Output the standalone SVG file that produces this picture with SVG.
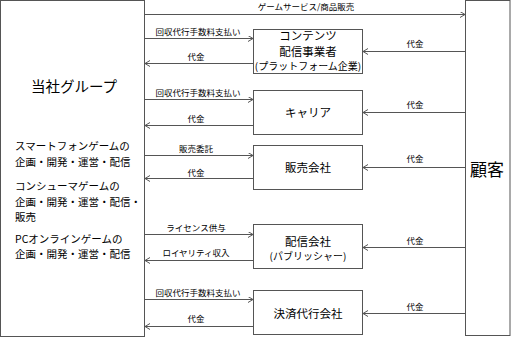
<svg xmlns="http://www.w3.org/2000/svg" width="511" height="338" viewBox="0 0 511 338">
<style>
text{font-family:"Noto Sans CJK JP","Noto Sans",sans-serif;fill:#000;text-anchor:middle}
.box{fill:#fff;stroke:#555;stroke-width:1}
.ln{stroke:#555;stroke-width:1;fill:none;marker-end:url(#ah)}
.lb{font-size:8.5px}
.bt{font-size:11.5px}
.bs{font-size:10px}
.lt{font-size:10.5px;text-anchor:start}
</style>
<defs>
<marker id="ah" markerUnits="userSpaceOnUse" markerWidth="8" markerHeight="8" refX="5" refY="3" orient="auto">
<path d="M0,0 L5,3 L0,6" fill="none" stroke="#555" stroke-width="1"/>
</marker>
</defs>
<g id="group">
<rect class="box" x="0.5" y="0.5" width="144" height="336"/>
<text x="74" y="92" style="font-size:14.5px">当社グループ</text>
<text class="lt" x="15" y="150">スマートフォンゲームの</text>
<text class="lt" x="15" y="166">企画・開発・運営・配信</text>
<text class="lt" x="15" y="190">コンシューマゲームの</text>
<text class="lt" x="15" y="206">企画・開発・運営・配信・</text>
<text class="lt" x="15" y="221">販売</text>
<text class="lt" x="15" y="243">PCオンラインゲームの</text>
<text class="lt" x="15" y="258">企画・開発・運営・配信</text>
</g>
<g id="customer">
<rect class="box" x="465.5" y="0.5" width="44.5" height="335"/>
<text x="487" y="176" style="font-size:17px">顧客</text>
</g>
<g id="contents">
<rect class="box" x="253.5" y="29.5" width="109" height="44"/>
<text class="bt" x="308" y="39.5">コンテンツ<tspan x="308" y="56">配信事業者</tspan><tspan class="bs" x="308" y="69.5">(プラットフォーム企業)</tspan></text>
</g>
<g id="carrier">
<rect class="box" x="253.5" y="90.5" width="109" height="44"/>
<text class="bt" x="308" y="117">キャリア</text>
</g>
<g id="sales">
<rect class="box" x="253.5" y="145.5" width="109" height="44"/>
<text class="bt" x="308" y="172">販売会社</text>
</g>
<g id="publisher">
<rect class="box" x="253.5" y="224.5" width="109" height="44"/>
<text class="bt" x="308" y="245.5">配信会社<tspan class="bs" x="308" y="259.5">(パブリッシャー)</tspan></text>
</g>
<g id="payment">
<rect class="box" x="253.5" y="290.5" width="109" height="44"/>
<text class="bt" x="308" y="318">決済代行会社</text>
</g>
<g id="connectors">
<line class="ln" x1="145" y1="14.5" x2="465" y2="14.5"/>
<line class="ln" x1="145" y1="38.5" x2="253" y2="38.5"/>
<line class="ln" x1="253" y1="63.5" x2="145" y2="63.5"/>
<line class="ln" x1="145" y1="99.5" x2="253" y2="99.5"/>
<line class="ln" x1="253" y1="125.5" x2="145" y2="125.5"/>
<line class="ln" x1="145" y1="155.5" x2="253" y2="155.5"/>
<line class="ln" x1="253" y1="178.5" x2="145" y2="178.5"/>
<line class="ln" x1="145" y1="234.5" x2="253" y2="234.5"/>
<line class="ln" x1="253" y1="260.5" x2="145" y2="260.5"/>
<line class="ln" x1="145" y1="299.5" x2="253" y2="299.5"/>
<line class="ln" x1="253" y1="326.5" x2="145" y2="326.5"/>
<line class="ln" x1="465" y1="51.5" x2="363" y2="51.5"/>
<line class="ln" x1="465" y1="112.5" x2="363" y2="112.5"/>
<line class="ln" x1="465" y1="167.5" x2="363" y2="167.5"/>
<line class="ln" x1="465" y1="247.5" x2="363" y2="247.5"/>
<line class="ln" x1="465" y1="313.5" x2="363" y2="313.5"/>
<text class="lb" x="306" y="10">ゲームサービス/商品販売</text>
<text class="lb" x="198" y="35">回収代行手数料支払い</text>
<text class="lb" x="196" y="60">代金</text>
<text class="lb" x="198" y="96">回収代行手数料支払い</text>
<text class="lb" x="196" y="122">代金</text>
<text class="lb" x="196" y="152">販売委託</text>
<text class="lb" x="196" y="176">代金</text>
<text class="lb" x="196" y="231">ライセンス供与</text>
<text class="lb" x="196" y="256">ロイヤリティ収入</text>
<text class="lb" x="198" y="296">回収代行手数料支払い</text>
<text class="lb" x="196" y="322">代金</text>
<text class="lb" x="415" y="47">代金</text>
<text class="lb" x="415" y="108">代金</text>
<text class="lb" x="415" y="162">代金</text>
<text class="lb" x="415" y="244">代金</text>
<text class="lb" x="415" y="310">代金</text>
</g>
</svg>
